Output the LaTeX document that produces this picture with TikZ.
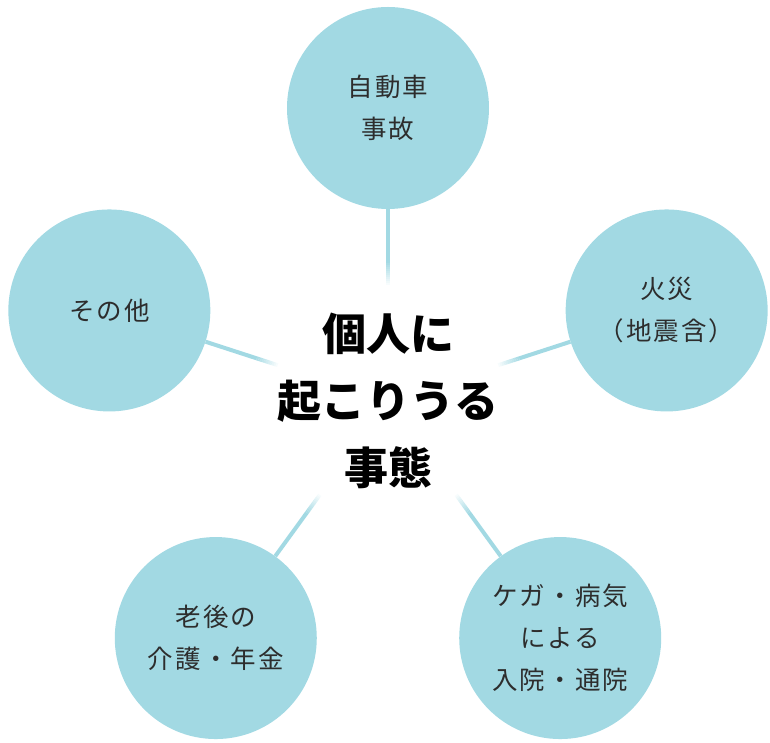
\documentclass[tikz,border=0pt]{standalone}
\usepackage{fontspec}
\setmainfont{Noto Sans CJK JP}
\newfontfamily\bubblefont[LetterSpace=8]{Noto Sans CJK JP}
\newfontfamily\corefont{Noto Sans CJK JP}
\usepackage{tikz}
\usetikzlibrary{calc,positioning}
\definecolor{bubbleblue}{RGB}{162,217,227}
\definecolor{textgrey}{RGB}{45,45,45}

\begin{document}
\begin{tikzpicture}[x=1pt, y=1pt,
    bubble/.style={circle, fill=bubbleblue, minimum size=202pt, inner sep=0pt,
                   align=center, text=textgrey, font=\bubblefont\fontsize{25.5}{42}\selectfont},
    core/.style={align=center, text=black, font=\corefont\bfseries\fontsize{44}{67}\selectfont},
    spoke/.style={draw=bubbleblue, line width=4pt}]
\useasboundingbox (-388,-342) rectangle (382,401);
\coordinate (hub) at (0,0);
\node[bubble] (car)   at (90:293)   {自動車\\事故};
\node[bubble] (fire)  at (18:293)   {火災\\（地震含）};
\node[bubble] (sick)  at (-54:293)  {ケガ・病気\\による\\入院・通院};
\node[bubble] (care)  at (-126:293) {老後の\\介護・年金};
\node[bubble] (other) at (162:293)  {その他};
\node[core] (theme) at (hub) {個人に\\起こりうる\\事態};
% spokes fade out towards the centre
\foreach \n in {car,fire,sick,care,other}{
  \draw[spoke] ($(hub)!138pt!(\n)$) -- (\n);
  \foreach \i in {0,...,10}{
    \pgfmathsetmacro\ra{116+2*\i}
    \pgfmathsetmacro\rb{118+2*\i}
    \pgfmathsetmacro\op{(\i+1)/12}
    \draw[spoke, draw opacity=\op] ($(hub)!\ra pt!(\n)$) -- ($(hub)!\rb pt!(\n)$);
  }
}
\end{tikzpicture}
\end{document}
